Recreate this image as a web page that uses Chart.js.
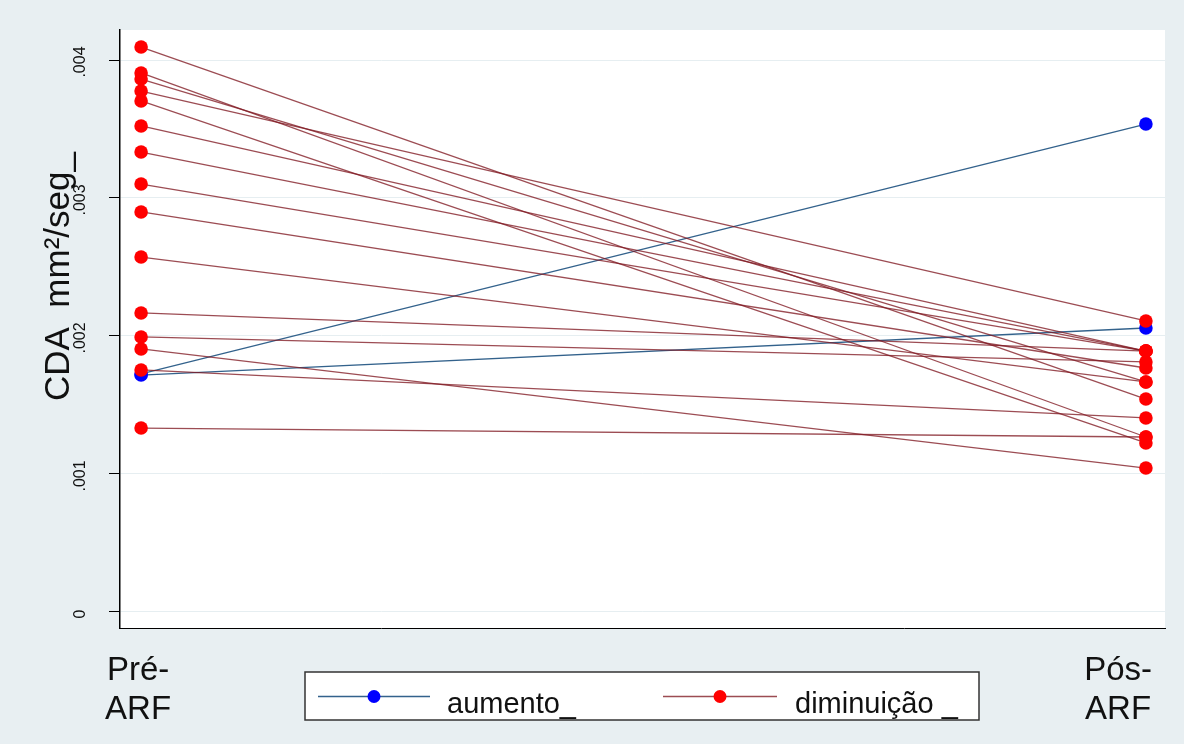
<!DOCTYPE html>
<html>
<head>
<meta charset="utf-8">
<script src="https://cdn.jsdelivr.net/npm/chart.js@4.4.1/dist/chart.umd.min.js"></script>
<style>
  html, body { margin: 0; padding: 0; background: #fff; }
  #wrap { width: 1184px; height: 744px; }
</style>
</head>
<body>
<div id="wrap"><canvas id="cda" width="1184" height="744"></canvas></div>
<script>
// CDA (mm²/seg) per subject, before and after ARF
const preAumento = [0.001725, 0.001717];
const posAumento = [0.003536, 0.002058];
const preDiminuicao = [0.004094, 0.003906, 0.003862, 0.003775, 0.003703, 0.003522, 0.003333, 0.003101,
                       0.002899, 0.002572, 0.002167, 0.001993, 0.001906, 0.001754, 0.001333];
const posDiminuicao = [0.001543, 0.001268, 0.001667, 0.002109, 0.001225, 0.001891, 0.001891, 0.001891,
                       0.001768, 0.001667, 0.001891, 0.001812, 0.001043, 0.001406, 0.001268];

const timeLabels = [['Pré-', 'ARF'], ['Pós-', 'ARF']];
const yTicks = [0, 0.001, 0.002, 0.003, 0.004];
const yTickLabels = ['0', '.001', '.002', '.003', '.004'];
const seriesNames = ['aumento_', 'diminuição _'];
const yTitle = 'CDA  mm²/seg_';

const FONT = '"Liberation Sans", Arial, sans-serif';
const BLUE_LINE = '#33628c', BLUE_DOT = '#0000ff';
const RED_LINE = 'rgba(128,26,34,0.78)', RED_DOT = '#ff0000';

// one small dataset per subject: a segment from time 0 to time 1
function pairSets(pre, pos, line, dot, order) {
  return pre.map((v, i) => ({
    label: order === 2 ? seriesNames[0] : seriesNames[1],
    data: [{ x: 0, y: v }, { x: 1, y: pos[i] }],
    borderColor: line,
    borderWidth: 1.3,
    pointBackgroundColor: dot,
    pointBorderWidth: 0,
    pointRadius: 6.8,
    order: order
  }));
}

const datasets = pairSets(preAumento, posAumento, BLUE_LINE, BLUE_DOT, 2)
  .concat(pairSets(preDiminuicao, posDiminuicao, RED_LINE, RED_DOT, 1));

const decor = {
  id: 'decor',
  beforeDraw(chart) {
    const { ctx, chartArea: a } = chart;
    ctx.save();
    ctx.fillStyle = '#e8eff2';
    ctx.fillRect(0, 0, chart.width, chart.height);
    ctx.fillStyle = '#ffffff';
    ctx.fillRect(a.left, a.top, a.right - a.left, a.bottom - a.top);
    ctx.restore();
  },
  afterDraw(chart) {
    const { ctx, chartArea: a } = chart;
    const ys = chart.scales.y, xs = chart.scales.x;
    ctx.save();
    ctx.fillStyle = '#111';

    // y tick labels, rotated
    ctx.font = '16px ' + FONT;
    ctx.textAlign = 'center';
    ctx.textBaseline = 'alphabetic';
    yTicks.forEach((v, i) => {
      ctx.save();
      ctx.translate(85, ys.getPixelForValue(v) + 2);
      ctx.rotate(-Math.PI / 2);
      ctx.fillText(yTickLabels[i], 0, 0);
      ctx.restore();
    });

    // y title
    ctx.font = '35px ' + FONT;
    ctx.textAlign = 'left';
    ctx.save();
    ctx.translate(69, 401);
    ctx.rotate(-Math.PI / 2);
    ctx.fillText(yTitle, 0, 0);
    ctx.restore();

    // time labels under the two columns
    ctx.font = '33px ' + FONT;
    ctx.textAlign = 'center';
    timeLabels.forEach((lines, i) => {
      const w = Math.max(...lines.map(s => ctx.measureText(s).width));
      let x = xs.getPixelForValue(i) - 3;
      x = Math.min(x, a.right - 13 - w / 2);
      lines.forEach((s, k) => ctx.fillText(s, x, 680 + k * 39));
    });

    // legend box
    const bx = 305, by = 672, bw = 674, bh = 48;
    ctx.fillStyle = '#fff';
    ctx.fillRect(bx, by, bw, bh);
    ctx.strokeStyle = '#333';
    ctx.lineWidth = 1.5;
    ctx.strokeRect(bx, by, bw, bh);
    const items = [
      { x0: 318, x1: 430, text: 447, line: BLUE_LINE, dot: BLUE_DOT },
      { x0: 663, x1: 777, text: 795, line: RED_LINE, dot: RED_DOT }
    ];
    const ly = 696.5;
    ctx.font = '29px ' + FONT;
    ctx.textAlign = 'left';
    items.forEach((it, i) => {
      ctx.strokeStyle = it.line;
      ctx.lineWidth = 1.5;
      ctx.beginPath();
      ctx.moveTo(it.x0, ly);
      ctx.lineTo(it.x1, ly);
      ctx.stroke();
      ctx.fillStyle = it.dot;
      ctx.beginPath();
      ctx.arc((it.x0 + it.x1) / 2, ly, 6.5, 0, Math.PI * 2);
      ctx.fill();
      ctx.fillStyle = '#111';
      ctx.fillText(seriesNames[i], it.text, 713);
    });
    ctx.restore();
  }
};

new Chart(document.getElementById('cda'), {
  type: 'line',
  data: { datasets },
  plugins: [decor],
  options: {
    responsive: false,
    animation: false,
    devicePixelRatio: 1,
    layout: { padding: { left: 0, top: 30, right: 19, bottom: 0 } },
    plugins: { legend: { display: false }, tooltip: { enabled: false } },
    scales: {
      x: {
        type: 'linear',
        min: -0.021,
        max: 1.019,
        ticks: { display: false },
        grid: { display: false },
        border: { display: true, color: '#000', width: 1 },
        afterFit(s) { s.height = 116; }
      },
      y: {
        type: 'linear',
        min: -0.000116,
        max: 0.0042174,
        afterBuildTicks(s) { s.ticks = yTicks.map(v => ({ value: v })); },
        ticks: { display: false },
        grid: { color: '#e6eef1', lineWidth: 1, tickColor: '#000', tickLength: 11, drawTicks: true },
        border: { display: true, color: '#000', width: 1.5 },
        afterFit(s) { s.width = 120; }
      }
    }
  }
});
</script>
</body>
</html>
